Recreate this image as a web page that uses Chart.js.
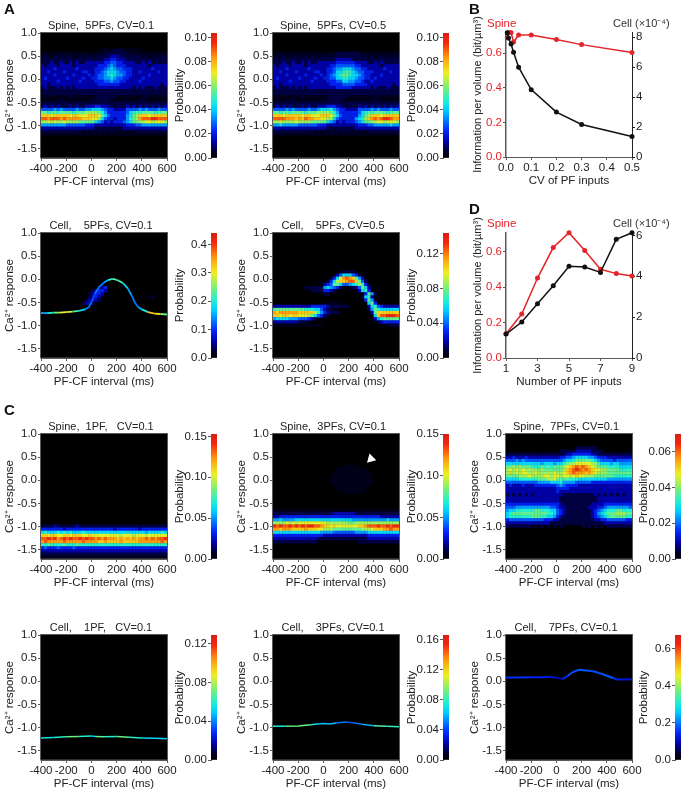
<!DOCTYPE html>
<html><head><meta charset="utf-8">
<script src="https://cdn.jsdelivr.net/npm/chart.js@4"></script>
<style>
html,body{margin:0;padding:0;background:#fff;overflow:hidden}
canvas{position:absolute;display:block}
.t{position:absolute;height:20px;line-height:20px;white-space:pre;font-family:'Liberation Sans',Arial,sans-serif}
</style></head><body>
<script>
// ---------- data ----------
const xTicks = [-400,-200,0,200,400,600];
const yTicks = [1,0.5,0,-0.5,-1,-1.5];
const cvValues = [0.005,0.01,0.02,0.03,0.05,0.1,0.2,0.3,0.5];
const cvSpine = [0.69,0.72,0.72,0.665,0.705,0.705,0.68,0.65,0.605];
const cvCell = [8.3,7.95,7.55,7.0,6.0,4.5,3.0,2.17,1.37];
const pfCounts = [1,2,3,4,5,6,7,8,9];
const pfSpine = [0.137,0.248,0.451,0.623,0.707,0.606,0.50,0.476,0.463];
const pfCell = [1.17,1.76,2.66,3.54,4.49,4.45,4.19,5.81,6.13];

// heat-map rows, hex level 0-f of the colour-bar range ('.' = half a level), top row first
const a1First = 5;
const a1Rows = [
"000000000000000000.....111......00000000",
"....................11111111............",
".1..1.1.11..1.11.111112221111111.1..1.11",
"1111111111111111111122332221111111111111",
"1112112112121122222233443322221121211111",
"2122212222122222223334543332222222122222",
"2222322222232222233345654433322222232222",
"2232222322222332233456665443322322222322",
"2222322222322223234456765543322222322222",
"2322222232222322334455654433222232222222",
"2222232222223222233344544332222322222222",
"2212222222222222223333333222222222222212",
"1211121212122222222222222222212121112111",
"1111111111111111111111111111111111111111",
"1111111111111111111111111111111111111111",
".........1.......1111111.........1......",
"......1.........1.1111..........1.......",
"1111111111111111111111111111111111111111",
"1212121112121122233222111112121212121212",
"4444545444454455666543322224444545444544",
"8878878888788899998753333334678788887888",
"bbbabbbbbabbaaabbba864333335689bbbabbbbb",
"ddcdddcdcccccbbbaa9643323335789cdddeeddd",
"99a9a99a9999888886542323334568899aa9aaa9",
"5555555544444433322222222223334455555555",
"2222222222222222211111111122222222222222",
"1111111111111.1.1.1.1.1.1.1.1.1111111111",
"........................................"];
const a2First = 6;
const a2Rows = [
"....................11111111............",
".1.1..1.1.1.1..1.1.111111111.1.1..1.1.1.",
"1111111111111111111122222111111111111111",
"1112112112121122222233333322221121211111",
"2122212222122222223344444433222222122222",
"2222322222232222233455666544332222232222",
"2232222322222332233466787654433322222322",
"2222322222322223234567887665433222322222",
"2322222232222322334466776654433232222222",
"2222232222223222233344665544322322222222",
"2212222222222222223333444433332222222212",
"1211121212122222222233333222222121112111",
"1111111111111111111111111111111111111111",
"1111111111111111111111111111111111111111",
".........1.......1111111.........1......",
"......1.........1.1111..........1.......",
"1111111111111111111111111111111111111111",
"1212121112121122233322111112121212121212",
"4444545444454456667543322224444545444544",
"8878878888788899998753333334678788887888",
"bbbabbbbbabbaaabbba864333335689bbbabbbbb",
"ddddcccbcbdccbbaa9964333335679bcdcdeedcc",
"99a9999a9999888886542323334568899aa9aaa9",
"5565555544444433322222222223334455555655",
"2222222222222222211111111122222222222222",
"1111111111111.1.1.1.1.1.1.1.1.1111111111",
"........................................"];
const a3First = 17;
const a3Rows = [
"0000000000000000001230000000000000000000",
"0000000000000000123320000000000000000000",
"0000000000000001233200000000000000000000",
"000000000000000123200000000000000..10000",
"0000000000000012321000000000000000000000",
"0000000000000122100000000000000000000000"];
const a4First = 12;
const a4Rows = [
"000000000000000000000.1111.0000000000000",
"0000000000000000000.24666431000000000000",
"000000000000000000136acdcb852.0000000000",
"000000000000000001369bbcddb8410000000000",
"00000000000000..234886445679731000000000",
"0000000000111111565431...124862000000000",
"00000000000011113321.00000.2673000000000",
"0000000000000000110000000000.38510000000".slice(0,40),
"0000000000000000000000000000167200000000",
"0000000000000000000000000000038510000000",
"0000000000000000.....000000000683 0000000".replace(' ',''),
"2222222222223333321111110000002674322222",
"7888888888777664211000000000001587666666",
"cbccccccbbbbb97532111000000000028bbbbbbb",
"bbabbabbaaa98643110000000000000 06bddeeed".replace(' ',''),
"5666655544432100000000000000000025788888",
"2222222211100000000000000000000001233333",
"................00000000000000000000.111"];
const c1First = 29;
const c1Rows = [
"1111211111121111111111111111111111111111",
"3333333233333333333333323333333233333333",
"6766676767666766666666666666666665666676",
"bbabbaabbabbbaabaaaaaaaaa9aaa9aaa9aaaaaa",
"ddedecdededdededdcdcdcccbcbcbcbccdcdcdde",
"cdcccccdcccccdccccbbcbbbbcbbbbbcccccccdc",
"7787777877787777777777777777777777777777",
"3433343333433333333333333333333333333333",
"2222222222222222222222222222222222222222",
"1111111111111111111111111111111111111111",
"........................................"];
const c2First = 10;
const c2Rows = [
"0000000000000000000000.....0000000000000",
"00000000000000000000..........0000000000",
"0000000000000000000............000000000",
"000000000000000000..............00000000",
"000000000000000000..............00000000",
"000000000000000000..............00000000",
"0000000000000000000............000000000",
"00000000000000000000..........0000000000",
"000000000000000000000........00000000000",
"","","","","",
"........................................",
"1111111111111111111222222211111111111111",
"2233333333333333333333333333333333222222",
"5565555666666666666666666555555555556555",
"9999a9a9aaaaaaaaa99999998899999999999999",
"ededdedededeeddcbbabaaaaaaabbcdddeddedee",
"ccbcccbbbbcbbbaa999888888888999abbbccdcc",
"6666666666666665555444444455556666666666",
"3333333333333333222222222222223333333333",
"2222222222222211111111111111112222222222",
"1111111111111100000000000001111111111111"];
const c3First = 4;
const c3Rows = [
"0000000000000000000000111111100000000000",
"0000000000000000011111222221111000000000",
"1111111111111111111223333332211111111111",
"2232223222222222233445666655433322222222",
"4445454444444444445667888887654444344444",
"6666666666656665667899aaaaa9976665665555",
"8898988877787878889abcdcdcba988877776666",
"9a9a9a9999898888889bcdedcdcbaa9988887777",
"9b9a9aa99a99999a99abcdcccbcba99988888888",
"8888999a9999aa9aa9aa9abaa999888888777777",
"666677777788899a887877766666666655555555",
"4444444444555566675555444443333333333333",
"2322232223333333454333322222222222222222",
"2222222222222222333322222222222222222222",
"2222222222222222322222222222222222222222",
"1212121212222222221111111111212121212122",
"2222222222222222211111111111122222222222",
"2222222222222222211111111111122222222222",
"3333333333333333321111111112222333333333",
"4445555555555544322111111122233455555554",
"5667777778877766432111111112345677788777",
"6788888888888776432111111112356788899988",
"6777777788877665321111111112345678888877",
"3444444444443332211111111111223344444433",
"2222222222222211111111111111111222222222",
"1111111101010101010000001010101011111111"];

// thin ridges of the Cell maps: interval, response, probability
const a3RidgeX = [-400,-350,-300,-250,-200,-150,-100,-50,-20,0,30,60,100,130,170,200,250,290,320,345,370,400,450,500,550,600];
const a3RidgeY = [-0.73,-0.73,-0.72,-0.72,-0.71,-0.70,-0.68,-0.65,-0.6,-0.5,-0.3,-0.17,-0.07,-0.02,0.01,-0.01,-0.08,-0.2,-0.35,-0.5,-0.6,-0.65,-0.71,-0.74,-0.75,-0.76];
const a3RidgeP = [0.15,0.2,0.24,0.3,0.29,0.22,0.18,0.13,0.13,0.11,0.13,0.13,0.15,0.2,0.24,0.22,0.18,0.15,0.13,0.13,0.15,0.2,0.33,0.31,0.24,0.18];
const c4RidgeX = [-400,-300,-200,-100,0,30,100,200,300,400,500,600];
const c4RidgeY = [-1.225,-1.215,-1.2,-1.19,-1.18,-1.19,-1.2,-1.195,-1.21,-1.225,-1.23,-1.24];
const c4RidgeP = [0.055,0.06,0.07,0.06,0.05,0.07,0.06,0.07,0.06,0.05,0.05,0.05];
const c5RidgeX = [-400,-300,-200,-100,-50,0,50,100,180,250,300,400,500,600];
const c5RidgeY = [-0.97,-0.97,-0.965,-0.94,-0.92,-0.91,-0.92,-0.9,-0.88,-0.9,-0.925,-0.96,-0.97,-0.98];
const c5RidgeP = [0.075,0.09,0.09,0.07,0.06,0.06,0.06,0.05,0.045,0.05,0.06,0.085,0.08,0.07];
const c6RidgeX = [-400,-300,-200,-100,-50,0,50,90,130,180,250,300,350,400,450,480,550,600];
const c6RidgeY = [0.08,0.08,0.085,0.09,0.1,0.075,0.05,0.12,0.2,0.25,0.23,0.21,0.17,0.12,0.07,0.04,0.04,0.04];
const c6RidgeP = [0.15,0.15,0.14,0.13,0.12,0.1,0.15,0.17,0.17,0.18,0.17,0.17,0.18,0.18,0.15,0.13,0.12,0.13];

const arrowPoint = [{x:377,y:0.465}];

// ---------- style ----------
const FONT = "'Liberation Sans', Arial, sans-serif";
const FS = 11.5, INK = '#222', AXIS = '#5a5a5a', RED = '#e3242b';
Chart.defaults.font.family = FONT;
Chart.defaults.font.size = FS;
Chart.defaults.color = INK;
Chart.defaults.animation = false;
const stops = [[0,[0,0,0]],[0.05,[0,0,40]],[0.13,[0,0,165]],[0.22,[0,40,255]],[0.38,[0,205,255]],[0.46,[30,240,210]],[0.56,[120,240,120]],[0.68,[240,240,30]],[0.8,[255,155,15]],[0.92,[245,40,15]],[1,[215,30,20]]];
function cmap(f){
  f = Math.max(0,Math.min(1,f));
  for(let i=1;i<stops.length;i++){
    if(f<=stops[i][0]){
      const a=stops[i-1],b=stops[i],t=(f-a[0])/(b[0]-a[0]);
      const c=a[1].map((v,k)=>Math.round(v+(b[1][k]-v)*t));
      return `rgb(${c[0]},${c[1]},${c[2]})`;
    }
  }
  return 'rgb(215,30,20)';
}
function mount(left,top,w,h){
  const c=document.createElement('canvas');
  c.width=w;c.height=h;
  c.style.left=left+'px';c.style.top=top+'px';c.style.width=w+'px';c.style.height=h+'px';
  document.body.appendChild(c);
  return c;
}
function label(text,x,y,css){
  const d=document.createElement('div');
  d.className='t';d.textContent=text;
  d.style.left=x+'px';d.style.top=(y-10)+'px';
  Object.assign(d.style,css||{});
  document.body.appendChild(d);
}
const plotFrame = {
  id:'plotFrame',
  beforeDatasetsDraw(ch){const a=ch.chartArea,c=ch.ctx;c.save();c.fillStyle='#000';c.fillRect(a.left,a.top,a.width,a.height);c.restore();},
  afterDatasetsDraw(ch){const a=ch.chartArea,c=ch.ctx;c.save();c.strokeStyle=AXIS;c.lineWidth=1;c.strokeRect(a.left-0.5,a.top-0.5,a.width+1,a.height+0.5);c.restore();}
};
const BIN_X=25, BIN_Y=0.0675, CELL=3.15;
function cellsFrom(rows,first,maxV){
  const out=[];
  rows.forEach((row,r)=>{
    for(let c=0;c<row.length&&c<40;c++){
      const lv=row[c]==='.'?0.5:parseInt(row[c],16);
      if(lv>0) out.push({x:-400+(c+0.5)*BIN_X,y:1-(first+r+0.5)*BIN_Y,v:lv/15*maxV});
    }
  });
  return out;
}
function heat(p){
  const L=41,T=15,R=35,B=31,W=126,H=125;
  const cv=mount(p.left-L,p.top-T,L+W+R,T+H+B);
  const ds=[];
  if(p.arrow) ds.push({data:p.arrow,pointStyle:'triangle',pointRadius:5.5,pointRotation:225,backgroundColor:'#fff',pointBorderWidth:0,showLine:false});
  if(p.rx) ds.push({
    data:p.rx.map((x,i)=>({x,y:p.ry[i]})),showLine:true,pointRadius:0,borderWidth:p.rw||1.8,tension:0,
    segment:{borderColor:c=>cmap(p.rp[c.p0DataIndex]/p.max)},borderColor:'#00f'
  });
  if(p.rows) ds.push({
    data:cellsFrom(p.rows,p.first,p.max),showLine:false,
    pointStyle:'rect',pointRadius:(CELL+0.3)/Math.SQRT2,pointBorderWidth:0,
    backgroundColor:c=>cmap(c.raw?c.raw.v/p.max:0)
  });
  new Chart(cv,{type:'scatter',data:{datasets:ds},plugins:[plotFrame],options:{
    responsive:false,events:[],
    layout:{padding:0},
    plugins:{legend:{display:false},tooltip:{enabled:false},
      title:{display:true,text:p.title,font:{size:11,weight:'normal'},color:INK,padding:{top:1.8,bottom:0}}},
    scales:{
      x:{type:'linear',min:-400,max:600,afterFit:s=>{s.height=B},afterBuildTicks:s=>{s.ticks=xTicks.map(v=>({value:v}))},
        grid:{drawOnChartArea:false,tickLength:3,color:AXIS},border:{color:AXIS},
        ticks:{autoSkip:false,maxRotation:0,padding:1,color:INK,callback:v=>String(v)},
        title:{display:true,text:'PF-CF interval (ms)',padding:0,color:INK}},
      y:{type:'linear',min:-1.7,max:1,afterFit:s=>{s.width=L},afterBuildTicks:s=>{s.ticks=yTicks.map(v=>({value:v}))},
        grid:{drawOnChartArea:false,tickLength:3,color:AXIS},border:{color:AXIS},
        ticks:{autoSkip:false,padding:1,color:INK,callback:v=>v.toFixed(1)},
        title:{display:true,text:'Ca²⁺ response',padding:{top:3,bottom:0},color:INK}},
      spacer:{type:'linear',position:'right',afterFit:s=>{s.width=R},grid:{display:false},border:{display:false},ticks:{display:false}}
    }}});
}
function colorbar(p){
  const L=41,T=15,R=2,W=6,H=125;
  const cv=mount(p.left-L,p.top-T,L+W+R,T+H+10);
  new Chart(cv,{type:'bar',data:{labels:[''],datasets:[{data:[p.max],barPercentage:1,categoryPercentage:1,
      borderWidth:0,backgroundColor:c=>{
        const a=c.chart.chartArea; if(!a) return '#000';
        const g=c.chart.ctx.createLinearGradient(0,a.bottom,0,a.top);
        stops.forEach(s=>g.addColorStop(s[0],`rgb(${s[1].join(',')})`));
        return g;}}]},
    options:{responsive:false,events:[],
      layout:{padding:{top:T,right:R,bottom:10,left:0}},
      plugins:{legend:{display:false},tooltip:{enabled:false}},
      scales:{
        x:{display:false},
        y:{min:0,max:p.max,afterFit:s=>{s.width=L},afterBuildTicks:s=>{s.ticks=p.ticks.map(v=>({value:v}))},
          grid:{drawOnChartArea:false,tickLength:3,color:AXIS},border:{color:AXIS},
          ticks:{autoSkip:false,padding:1,color:INK,callback:v=>v.toFixed(p.dec)},
          title:{display:true,text:'Probability',padding:{top:3,bottom:0},color:INK}}
      }}});
}
function lines(p){
  const L=41,T=20,R=30,B=31,W=126,H=125;
  const cv=mount(p.left-L,p.top-T,L+W+R,T+H+B);
  const mk=(ys,col,axis)=>({data:p.xs.map((x,i)=>({x,y:ys[i]})),yAxisID:axis,showLine:true,borderColor:col,backgroundColor:col,
    borderWidth:1.5,pointRadius:2.5,pointBorderWidth:0,tension:0,clip:false});
  new Chart(cv,{type:'scatter',data:{datasets:[mk(p.cell,'#111','y2'),mk(p.spine,RED,'y')]},options:{
    responsive:false,events:[],
    layout:{padding:{top:T,right:0,bottom:0,left:0}},
    plugins:{legend:{display:false},tooltip:{enabled:false}},
    scales:{
      x:{type:'linear',min:p.xmin,max:p.xmax,afterFit:s=>{s.height=B},afterBuildTicks:s=>{s.ticks=p.xticks.map(v=>({value:v}))},
        grid:{drawOnChartArea:false,tickLength:3,color:AXIS},border:{color:AXIS},
        ticks:{autoSkip:false,maxRotation:0,padding:1,color:INK,callback:v=>p.xdec?v.toFixed(p.xdec):String(v)},
        title:{display:true,text:p.xtitle,padding:0,color:INK}},
      y:{type:'linear',position:'left',min:0,max:p.lmax,afterFit:s=>{s.width=L},afterBuildTicks:s=>{s.ticks=[0,0.2,0.4,0.6].map(v=>({value:v}))},
        grid:{drawOnChartArea:false,tickLength:3,color:AXIS},border:{color:AXIS,width:1.5},
        ticks:{autoSkip:false,padding:1,color:RED,callback:v=>v.toFixed(1)},
        title:{display:true,text:'Information per volume (bit/µm³)',padding:{top:6,bottom:0},color:INK,font:{size:11}}},
      y2:{type:'linear',position:'right',min:0,max:p.rmax,afterFit:s=>{s.width=R},afterBuildTicks:s=>{s.ticks=p.rticks.map(v=>({value:v}))},
        grid:{drawOnChartArea:false,tickLength:3,color:'#222'},border:{color:'#222'},
        ticks:{autoSkip:false,padding:1,color:INK,callback:v=>String(v)}}
    }}});
}

// ---------- layout ----------
const colL=[41,273,506], barL=[211,443,675], rowT=[33,233,434,635];
const panels=[
 {c:0,r:0,title:'Spine,  5PFs, CV=0.1',rows:a1Rows,first:a1First,max:0.104,ticks:[0,0.02,0.04,0.06,0.08,0.1],dec:2},
 {c:1,r:0,title:'Spine,  5PFs, CV=0.5',rows:a2Rows,first:a2First,max:0.104,ticks:[0,0.02,0.04,0.06,0.08,0.1],dec:2},
 {c:0,r:1,title:'Cell,    5PFs, CV=0.1',rows:a3Rows,first:a3First,rx:a3RidgeX,ry:a3RidgeY,rp:a3RidgeP,max:0.44,ticks:[0,0.1,0.2,0.3,0.4],dec:1},
 {c:1,r:1,title:'Cell,    5PFs, CV=0.5',rows:a4Rows,first:a4First,max:0.1437,ticks:[0,0.04,0.08,0.12],dec:2},
 {c:0,r:2,title:'Spine,  1PF,   CV=0.1',rows:c1Rows,first:c1First,max:0.153,ticks:[0,0.05,0.1,0.15],dec:2},
 {c:1,r:2,title:'Spine,  3PFs, CV=0.1',rows:c2Rows,first:c2First,arrow:arrowPoint,max:0.15,ticks:[0,0.05,0.1,0.15],dec:2},
 {c:2,r:2,title:'Spine,  7PFs, CV=0.1',rows:c3Rows,first:c3First,max:0.0698,ticks:[0,0.02,0.04,0.06],dec:2},
 {c:0,r:3,title:'Cell,    1PF,   CV=0.1',rx:c4RidgeX,ry:c4RidgeY,rp:c4RidgeP,rw:1.5,max:0.129,ticks:[0,0.04,0.08,0.12],dec:2},
 {c:1,r:3,title:'Cell,    3PFs, CV=0.1',rx:c5RidgeX,ry:c5RidgeY,rp:c5RidgeP,rw:1.5,max:0.166,ticks:[0,0.04,0.08,0.12,0.16],dec:2},
 {c:2,r:3,title:'Cell,    7PFs, CV=0.1',rx:c6RidgeX,ry:c6RidgeY,rp:c6RidgeP,rw:2,max:0.672,ticks:[0,0.2,0.4,0.6],dec:1}
];
panels.forEach(p=>{
  heat(Object.assign({left:colL[p.c],top:rowT[p.r]},p));
  colorbar({left:barL[p.c],top:rowT[p.r],max:p.max,ticks:p.ticks,dec:p.dec});
});
lines({left:506,top:32,xs:cvValues,spine:cvSpine,cell:cvCell,xmin:0,xmax:0.5,xticks:[0,0.1,0.2,0.3,0.4,0.5],xdec:1,xtitle:'CV of PF inputs',lmax:0.723,rmax:8.35,rticks:[0,2,4,6,8]});
lines({left:506,top:233,xs:pfCounts,spine:pfSpine,cell:pfCell,xmin:1,xmax:9,xticks:[1,3,5,7,9],xdec:0,xtitle:'Number of PF inputs',lmax:0.705,rmax:6.12,rticks:[0,2,4,6]});

const bold={fontWeight:'bold',fontSize:'15px',color:'#111'};
label('A',4,9,bold);label('B',469,9,bold);label('C',4,410,bold);label('D',469,209,bold);
label('Spine',487,23,{fontSize:'11.5px',color:RED});
label('Cell (×10⁻⁴)',613,23,{fontSize:'11px',color:'#333'});
label('Spine',487,223,{fontSize:'11.5px',color:RED});
label('Cell (×10⁻⁴)',613,223,{fontSize:'11px',color:'#333'});
</script>
</body></html>
